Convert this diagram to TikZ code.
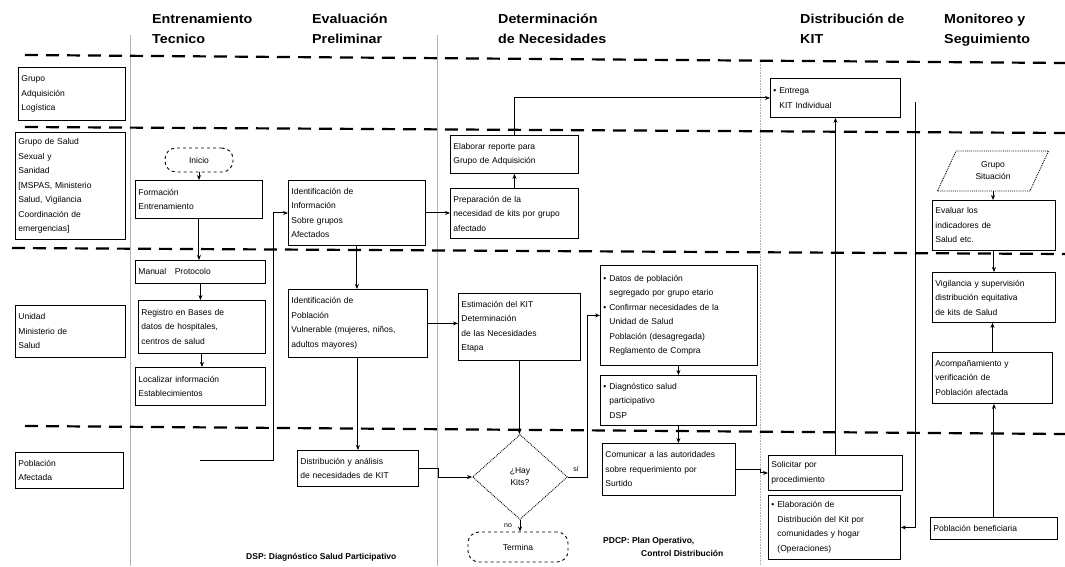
\documentclass[tikz,border=0pt]{standalone}
\usepackage{fontspec}
\setmainfont{Liberation Sans}
\newfontfamily\hdrfont[FakeStretch=1.1]{Liberation Sans}
\usetikzlibrary{arrows.meta,shapes.geometric}
\tikzset{
 txt/.style={font=\fontsize{8.5}{14.5}\selectfont, align=left, inner sep=3pt},
 box/.style={txt, draw=black, line width=0.9pt, anchor=north west},
 term/.style={txt, draw=black, dashed, rounded corners=11pt, line width=0.9pt, align=center},
 hdr/.style={font=\hdrfont\fontsize{13}{20}\selectfont\bfseries, align=left, anchor=north west, inner sep=0pt},
 lane/.style={line width=2.2pt, dash pattern=on 13pt off 8pt},
 colsep/.style={draw=gray!60, line width=0.6pt},
 arr/.style={line width=1pt, -{Stealth[length=5pt,width=4pt]}},
 lbl/.style={font=\fontsize{7}{8}\selectfont, inner sep=1pt},
}
\begin{document}
\begin{tikzpicture}[x=1pt,y=-1pt]
\useasboundingbox (0,0) rectangle (1065,566);
\fill[white] (0,0) rectangle (1065,566);

% headers
\node[hdr] (h1) at (152,14) {Entrenamiento\\Tecnico};
\node[hdr] (h2) at (312,14) {Evaluación\\Preliminar};
\node[hdr] (h3) at (498,14) {Determinación\\de Necesidades};
\node[hdr] (h4) at (800,14) {Distribución de\\KIT};
\node[hdr] (h5) at (944,14) {Monitoreo y\\Seguimiento};

% column separators
\draw[colsep] (130,35) -- (130,566);
\draw[colsep] (437,35) -- (437,566);
\draw[colsep, densely dotted] (760,62) -- (760,566);

% lane lines
\draw[lane] (25,55) -- (1065,63);
\draw[lane] (25,127) -- (1065,133);
\draw[lane] (12,248) -- (1065,254);
\draw[lane] (25,426) -- (1065,434);

% role labels
\node[box, text width=101pt, minimum height=53pt] (rA) at (18,67) {Grupo\\Adquisición\\Logística};
\node[box, text width=104pt, minimum height=107pt] (rB) at (15,132) {Grupo de Salud\\Sexual y\\Sanidad\\{[}MSPAS, Ministerio\\Salud, Vigilancia\\Coordinación de\\emergencias{]}};
\node[box, text width=104pt, minimum height=52pt] (rC) at (15,305) {Unidad\\Ministerio de\\Salud};
\node[box, text width=102pt, minimum height=36pt] (rD) at (15,452) {Población\\Afectada};

% column 1
\node[term, minimum width=68pt, minimum height=24pt] (ini) at (199,160) {Inicio};
\node[box, text width=121pt, minimum height=38pt] (form) at (135,180) {Formación\\Entrenamiento};
\node[box, text width=124pt, minimum height=23pt] (man) at (135,260) {Manual\quad Protocolo};
\node[box, text width=121pt, minimum height=53pt] (reg) at (138,300) {Registro en Bases de\\datos de hospitales,\\centros de salud};
\node[box, text width=124pt, minimum height=38pt] (loc) at (135,367) {Localizar información\\Establecimientos};

% column 2
\node[box, text width=131pt, minimum height=65pt] (ide) at (288,180) {Identificación de\\Información\\Sobre grupos\\Afectados};
\node[box, text width=133pt, minimum height=68pt] (ipo) at (288,289) {Identificación de\\Población\\Vulnerable (mujeres, niños,\\adultos mayores)};
\node[box, text width=115pt, minimum height=36pt] (dis) at (297,450) {Distribución y análisis\\de necesidades de KIT};

% column 3
\node[box, text width=122pt, minimum height=38pt] (ela) at (450,135) {Elaborar reporte para\\Grupo de Adquisición};
\node[box, text width=122pt, minimum height=50pt] (pre) at (450,188) {Preparación de la\\necesidad de kits por grupo\\afectado};
\node[box, text width=116pt, minimum height=67pt] (est) at (458,293) {Estimación del KIT\\Determinación\\de las Necesidades\\Etapa};
\node[box, text width=151pt, minimum height=100pt] (dat) at (600,265) {• Datos de población\\\hspace*{6pt}segregado por grupo etario\\• Confirmar necesidades de la\\\hspace*{6pt}Unidad de Salud\\\hspace*{6pt}Población (desagregada)\\\hspace*{6pt}Reglamento de Compra};
\node[box, text width=150pt, minimum height=50pt] (ctx) at (600,375) {• Diagnóstico salud\\\hspace*{6pt}participativo\\\hspace*{6pt}DSP};
\node[diamond, draw=black, densely dotted, line width=0.9pt, minimum width=95pt, minimum height=85pt, font=\fontsize{8.5}{12}\selectfont, align=center, inner sep=0pt] (dia) at (520,477) {¿Hay\\Kits?};
\node[box, text width=127pt, minimum height=52pt] (com) at (602,443) {Comunicar a las autoridades\\sobre requerimiento por\\Surtido};
\node[term, minimum width=100pt, minimum height=30pt] (fin) at (518,547) {Termina};
\node[txt, anchor=north west, font=\fontsize{8.5}{13}\selectfont\bfseries] (n1) at (600,534) {PDCP:~Plan Operativo,\\\hspace*{38pt}Control Distribución};
\node[txt, anchor=west, font=\fontsize{8.5}{13}\selectfont\bfseries] (n2) at (243,557) {DSP: Diagnóstico Salud Participativo};

% column 4
\node[box, text width=124pt, minimum height=39pt] (kit) at (770,78) {• Entrega\\\hspace*{6pt}KIT Individual};
\node[box, text width=128pt, minimum height=35pt] (sol) at (768,455) {Solicitar por\\procedimiento};
\node[box, text width=126pt, minimum height=64pt] (eld) at (768,495) {• Elaboración de\\\hspace*{6pt}Distribución del Kit por\\\hspace*{6pt}comunidades y hogar\\\hspace*{6pt}(Operaciones)};

% column 5
\node[trapezium, trapezium left angle=65, trapezium right angle=115, draw=black, densely dotted, line width=0.9pt, font=\fontsize{8.5}{12}\selectfont, align=center, minimum width=112pt, minimum height=35pt, inner sep=1pt] (sit) at (993,171) {Grupo\\Situación};
\node[box, text width=117pt, minimum height=50pt] (eva) at (932,200) {Evaluar los\\indicadores de\\Salud etc.};
\node[box, text width=117pt, minimum height=50pt] (vig) at (932,272) {Vigilancia y supervisión\\distribución equitativa\\de kits de Salud};
\node[box, text width=114pt, minimum height=51pt] (aco) at (932,352) {Acompañamiento y\\verificación de\\Población afectada};
\node[box, text width=121pt, minimum height=22pt] (pob) at (930,517) {Población beneficiaria};

% connectors
\coordinate (c1) at (200,460);
\coordinate (c2) at (915,102);
\draw[arr] (ini.south) -- (ini.south |- form.north);
\draw[arr] (form.south) -- (form.south |- man.north);
\draw[arr] (man.south) -- (man.south |- reg.north);
\draw[arr] (reg.south) -- (reg.south |- loc.north);
\draw[arr] (c1) -- (273,460) |- (ide.west);
\draw[arr] (ide.south) -- (ide.south |- ipo.north);
\draw[arr] (ipo.south) -- (ipo.south |- dis.north);
\draw[arr] (ide.east) -- (ide.east -| pre.west);
\draw[arr] (pre.north) -- (pre.north |- ela.south);
\draw[arr] (ela.north) |- (kit.west);
\draw[arr] (ipo.east) -- (ipo.east -| est.west);
\draw[arr] (est.south) -- (est.south |- dia.north);
\draw[arr] (dis.east) -- ++(20,0) |- (dia.west);
\draw[arr] (dia.east) -- ++(20,0) |- (dat.west);
\node[lbl] (lsi) at (576,469) {sí};
\draw[arr] (dia.south) -- (dia.south |- fin.north);
\node[lbl] (lno) at (508,526) {no};
\draw[arr] (ctx.north |- dat.south) -- (ctx.north);
\draw[arr] (ctx.south) -- (ctx.south |- com.north);
\draw[arr] (com.east) -- ++(25,0) |- (sol.west);
\draw[arr] (sol.north) -- (sol.north |- kit.south);
\draw[arr] (c2) |- (eld.east);
\draw[arr] (sit.south) -- (sit.south |- eva.north);
\draw[arr] (eva.south) -- (eva.south |- vig.north);
\draw[arr] (aco.north) -- (aco.north |- vig.south);
\draw[arr] (pob.north) -- (pob.north |- aco.south);
\end{tikzpicture}
\end{document}
